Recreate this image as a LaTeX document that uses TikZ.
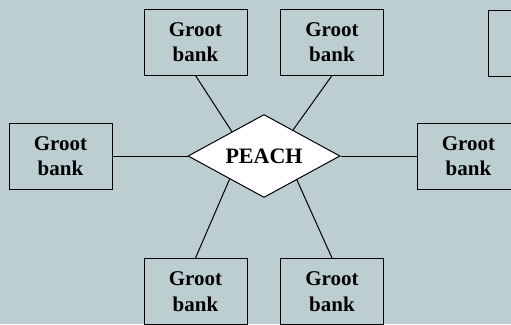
\documentclass[tikz,border=0pt]{standalone}
\usepackage{fontspec}
\setmainfont{Liberation Serif}
\usetikzlibrary{shapes.geometric,calc}
\definecolor{bgc}{RGB}{188,206,208}
\tikzset{
  box/.style={draw=black,line width=1pt,minimum width=103pt,minimum height=66pt,inner sep=0pt,align=center,font=\bfseries\fontsize{21}{25.5}\selectfont},
  rel/.style={draw=black,fill=white,line width=1pt,shape=diamond,aspect=1.83,minimum width=152pt,minimum height=83pt,inner sep=0pt,font=\bfseries\fontsize{22}{25}\selectfont},
  conn/.style={line width=1pt}
}
\begin{document}
\begin{tikzpicture}[x=1pt,y=-1pt]
\fill[bgc] (0,0) rectangle (511,324);
\useasboundingbox (0,0) rectangle (511,324);
\clip (0,0) rectangle (511,324);
\node[box] (tl) at (195.5,42) {Groot\\bank};
\node[box] (tr) at (332,42) {Groot\\bank};
\node[box] (far) at (539.5,43.5) {};
\node[box] (l) at (60.5,156) {Groot\\bank};
\node[box] (r) at (468.5,156) {Groot\\bank};
\node[box] (bl) at (195.5,291.5) {Groot\\bank};
\node[box] (br) at (332,291.5) {Groot\\bank};
\node[rel] (d) at (264,156) {PEACH};
\draw[conn] (tl.south) -- ($(d.west)!0.58!(d.north)$);
\draw[conn] (tr.south) -- ($(d.east)!0.62!(d.north)$);
\draw[conn] (l.east) -- (d.west);
\draw[conn] (r.west) -- (d.east);
\draw[conn] (bl.north) -- ($(d.west)!0.55!(d.south)$);
\draw[conn] (br.north) -- ($(d.east)!0.57!(d.south)$);
\end{tikzpicture}
\end{document}
